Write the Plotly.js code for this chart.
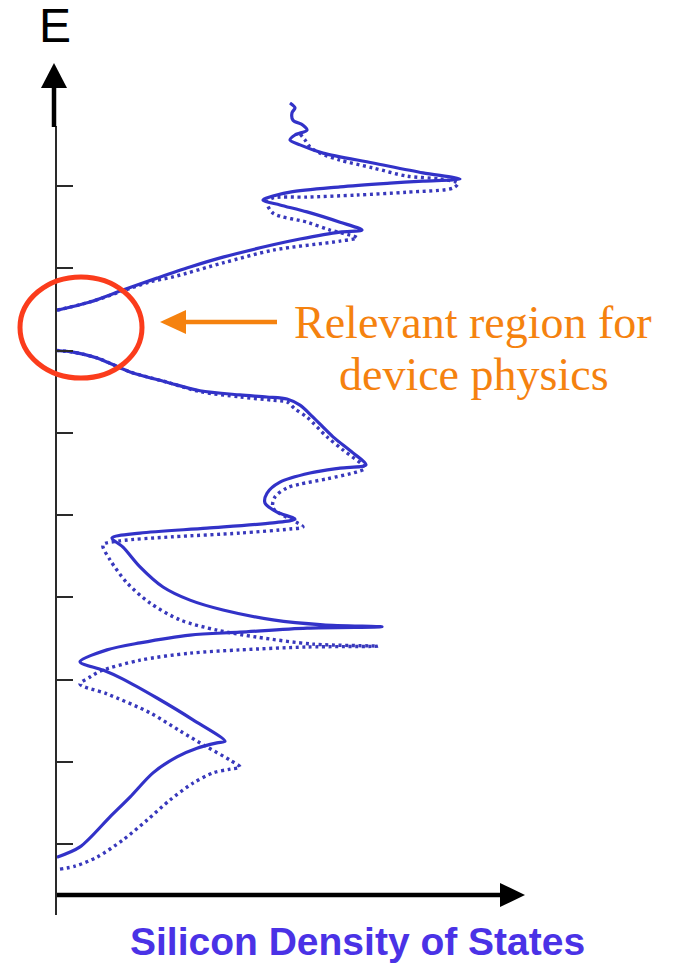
<!DOCTYPE html>
<html>
<head>
<meta charset="utf-8">
<script src="https://cdn.plot.ly/plotly-3.0.1.min.js"></script>
<style>
  html, body { margin: 0; padding: 0; background: #ffffff; }
  #chart { width: 690px; height: 965px; }
</style>
</head>
<body>
<div id="chart"></div>
<script>
// Silicon density of states: energy (eV, valence band top at 0) vs. DOS (arbitrary units).
// Solid curve and dotted curve, each split into valence band and conduction band.

const vbSolidDos = [0.01, 0.24, 0.54, 0.74, 0.97, 1.21, 1.41, 1.61, 1.69, 1.37, 1.01, 0.67, 0.47, 0.24,
  0.51, 0.84, 1.34, 1.84, 2.51, 3.26, 2.67, 2.17, 1.67, 1.34, 1.07, 0.84, 0.67, 0.56,
  0.84, 1.51, 2.17, 2.39, 2.21, 2.09, 2.11, 2.24, 2.54, 2.84, 3.10, 2.97, 2.77, 2.57,
  2.44, 2.31, 2.11, 1.84, 1.44, 1.11, 0.74, 0.41, 0.17, 0.01];
const vbSolidE = [-12.32, -12.07, -11.34, -10.86, -10.27, -9.88, -9.67, -9.54, -9.50, -8.98, -8.45, -7.99, -7.77, -7.57,
  -7.28, -7.11, -6.92, -6.85, -6.75, -6.72, -6.67, -6.55, -6.31, -6.07, -5.75, -5.26, -4.78, -4.56,
  -4.44, -4.32, -4.19, -4.10, -3.93, -3.71, -3.47, -3.20, -2.98, -2.86, -2.78, -2.49, -2.10, -1.62,
  -1.33, -1.18, -1.13, -1.08, -0.98, -0.77, -0.52, -0.18, -0.04, 0.00];

const cbSolidDos = [0.01, 0.34, 0.67, 1.01, 1.34, 1.67, 2.17, 2.44, 2.84, 3.06, 2.84, 2.51, 2.24, 2.07,
  2.34, 2.84, 3.34, 3.67, 4.04, 3.67, 3.17, 2.67, 2.44, 2.34, 2.39, 2.51, 2.47, 2.37, 2.36, 2.39, 2.34];
const cbSolidE = [0.98, 1.18, 1.47, 1.76, 2.03, 2.27, 2.57, 2.71, 2.88, 2.93, 3.12, 3.37, 3.54, 3.66,
  3.85, 3.98, 4.07, 4.12, 4.17, 4.32, 4.56, 4.80, 5.00, 5.12, 5.24, 5.36, 5.48, 5.60, 5.78, 5.90, 6.02];

const vbDotDos = [0.04, 0.19, 0.41, 0.67, 0.91, 1.14, 1.37, 1.57, 1.74, 1.84, 1.74, 1.51, 1.24, 0.94, 0.51, 0.24,
  0.34, 0.44, 0.84, 1.34, 1.84, 2.51, 3.22, 2.57, 2.01, 1.61, 1.24, 0.94, 0.71, 0.54, 0.47,
  0.64, 1.17, 1.84, 2.34, 2.47, 2.17, 2.19, 2.31, 2.44, 2.71, 3.01, 3.09,
  2.87, 2.71, 2.51, 2.39, 2.31, 2.17, 1.84, 1.44, 1.11, 0.74, 0.41, 0.17, 0.01];
const vbDotE = [-12.61, -12.54, -12.32, -11.90, -11.42, -10.93, -10.52, -10.27, -10.18, -10.13, -9.96, -9.64, -9.25, -8.81, -8.35, -8.11,
  -7.94, -7.80, -7.53, -7.36, -7.28, -7.21, -7.19, -7.14, -6.97, -6.80, -6.55, -6.14, -5.65, -5.09, -4.73,
  -4.63, -4.53, -4.44, -4.34, -4.29, -3.83, -3.56, -3.34, -3.25, -3.12, -2.95, -2.86,
  -2.42, -2.10, -1.62, -1.42, -1.25, -1.21, -1.13, -1.00, -0.77, -0.52, -0.18, -0.04, 0.00];

const cbDotDos = [0.01, 0.34, 0.67, 0.94, 1.17, 1.67, 2.17, 2.84, 3.01, 2.74, 2.51, 2.17, 2.11,
  2.17, 2.51, 3.01, 3.51, 3.97, 4.02, 3.84, 3.51, 3.17, 2.84, 2.64, 2.54, 2.49, 2.44];
const cbDotE = [0.98, 1.18, 1.45, 1.67, 1.79, 2.13, 2.44, 2.66, 2.74, 2.93, 3.12, 3.34, 3.61,
  3.71, 3.73, 3.78, 3.85, 3.95, 4.07, 4.17, 4.24, 4.44, 4.63, 4.80, 4.95, 5.12, 5.27];

const energyTicks = [-12, -10, -8, -6, -4, -2, 0, 2, 4];

// plot frame in page pixels
const L = 56, T = 63, W = 469, H = 831;
const fx = v => (v - L) / W;          // page x -> paper x
const fy = v => (T + H - v) / H;      // page y -> paper y

const solidLine = { color: '#3232c8', width: 3.2, shape: 'spline', smoothing: 0.85 };
const dotLine = { color: '#3838bc', width: 3.4, dash: '3px,3.6px', shape: 'spline', smoothing: 0.85 };

const traces = [
  { x: vbDotDos, y: vbDotE, mode: 'lines', line: dotLine, hoverinfo: 'skip' },
  { x: cbDotDos, y: cbDotE, mode: 'lines', line: dotLine, hoverinfo: 'skip' },
  { x: vbSolidDos, y: vbSolidE, mode: 'lines', line: solidLine, hoverinfo: 'skip' },
  { x: cbSolidDos, y: cbSolidE, mode: 'lines', line: solidLine, hoverinfo: 'skip' }
];

const orange = '#f5820f';

const shapes = [
  // energy axis (thin) and its arrow
  { type: 'line', xref: 'paper', yref: 'paper', x0: fx(56), x1: fx(56), y0: fy(915), y1: fy(126),
    line: { color: '#2a2a2a', width: 2 } },
  { type: 'line', xref: 'paper', yref: 'paper', x0: fx(54), x1: fx(54), y0: fy(127), y1: fy(86),
    line: { color: '#000', width: 4.5 } },
  { type: 'path', xref: 'paper', yref: 'paper',
    path: `M${fx(41)},${fy(88)} L${fx(67)},${fy(88)} L${fx(54)},${fy(63)} Z`,
    fillcolor: '#000', line: { width: 0 } },
  // DOS axis and its arrow
  { type: 'line', xref: 'paper', yref: 'paper', x0: fx(57), x1: fx(502), y0: fy(895), y1: fy(895),
    line: { color: '#000', width: 4.5 } },
  { type: 'path', xref: 'paper', yref: 'paper',
    path: `M${fx(500)},${fy(883)} L${fx(525)},${fy(895)} L${fx(500)},${fy(907)} Z`,
    fillcolor: '#000', line: { width: 0 } },
  // highlight ellipse around the gap
  { type: 'circle', xref: 'paper', yref: 'paper', x0: fx(20), x1: fx(142), y0: fy(378), y1: fy(277),
    line: { color: '#fb3c1c', width: 5 } },
  // pointer arrow
  { type: 'line', xref: 'paper', yref: 'paper', x0: fx(184), x1: fx(277), y0: fy(322), y1: fy(322),
    line: { color: orange, width: 4.5 } },
  { type: 'path', xref: 'paper', yref: 'paper',
    path: `M${fx(160)},${fy(322)} L${fx(186)},${fy(310)} L${fx(186)},${fy(334)} Z`,
    fillcolor: orange, line: { width: 0 } }
];

const annotations = [
  { text: 'E', xref: 'paper', yref: 'paper', x: fx(55), y: fy(25), xanchor: 'center', yanchor: 'middle',
    showarrow: false, font: { family: 'Liberation Sans, Arial, sans-serif', size: 48, color: '#000' } },
  { text: 'Relevant region for', xref: 'paper', yref: 'paper', x: fx(473), y: fy(322.5),
    xanchor: 'center', yanchor: 'middle', showarrow: false,
    font: { family: 'Liberation Serif, Times New Roman, serif', size: 46, color: orange } },
  { text: 'device physics', xref: 'paper', yref: 'paper', x: fx(474), y: fy(374.5),
    xanchor: 'center', yanchor: 'middle', showarrow: false,
    font: { family: 'Liberation Serif, Times New Roman, serif', size: 46, color: orange } },
  { text: '<b>Silicon Density of States</b>', xref: 'paper', yref: 'paper', x: fx(357.5), y: fy(941.5),
    xanchor: 'center', yanchor: 'middle', showarrow: false,
    font: { family: 'Liberation Sans, Arial, sans-serif', size: 39, color: '#4a32e6' } }
];

const layout = {
  width: 690, height: 965,
  margin: { l: L, r: 690 - L - W, t: T, b: 965 - T - H, pad: 0 },
  paper_bgcolor: '#ffffff', plot_bgcolor: '#ffffff',
  showlegend: false,
  xaxis: { range: [0, 4.69], showgrid: false, zeroline: false, showline: false,
    showticklabels: false, ticks: '', fixedrange: true },
  yaxis: { range: [-13.216, 6.991], showgrid: false, zeroline: false, showline: false,
    showticklabels: false, ticks: 'inside', ticklen: 17, tickwidth: 2, tickcolor: '#2a2a2a',
    tickmode: 'array', tickvals: energyTicks, fixedrange: true },
  shapes: shapes,
  annotations: annotations
};

Plotly.newPlot('chart', traces, layout, { displayModeBar: false, staticPlot: true });
</script>
</body>
</html>
